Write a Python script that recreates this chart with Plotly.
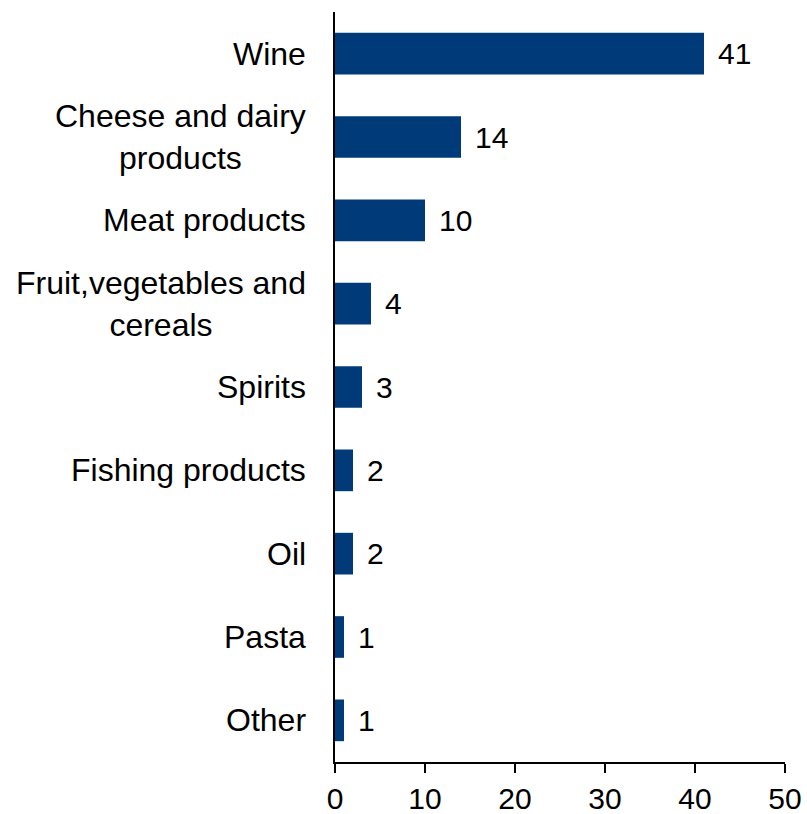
import plotly.graph_objects as go

# Product categories (top to bottom) and their counts
categories = [
    "Wine",
    "Cheese and dairy<br>products",
    "Meat products",
    "Fruit,vegetables and<br>cereals",
    "Spirits",
    "Fishing products",
    "Oil",
    "Pasta",
    "Other",
]
values = [41, 14, 10, 4, 3, 2, 2, 1, 1]
x_ticks = [0, 10, 20, 30, 40, 50]

BAR_COLOR = "#003a78"
FONT = "Liberation Sans, Arial, sans-serif"

fig = go.Figure(
    go.Bar(
        x=values,
        y=categories,
        orientation="h",
        width=0.5,
        marker=dict(color=BAR_COLOR, line=dict(width=0)),
        hoverinfo="skip",
    )
)

annotations = []
# Category labels, centred multi-line text to the left of the axis
for cat in categories:
    annotations.append(dict(
        x=0, xref="paper", y=cat, yref="y",
        text=cat, showarrow=False,
        xanchor="right", yanchor="middle", align="center",
        xshift=-27,
        font=dict(family=FONT, size=32, color="black"),
    ))
# Value labels at the end of each bar
for cat, v in zip(categories, values):
    annotations.append(dict(
        x=v, xref="x", y=cat, yref="y",
        text=str(v), showarrow=False,
        xanchor="left", yanchor="middle",
        xshift=12,
        font=dict(family=FONT, size=30, color="black"),
    ))

fig.update_layout(
    width=807, height=814,
    margin=dict(l=335, r=22, t=12, b=52),
    paper_bgcolor="white",
    plot_bgcolor="white",
    showlegend=False,
    annotations=annotations,
    font=dict(family=FONT, color="black"),
    xaxis=dict(
        range=[0, 50],
        tickvals=x_ticks,
        ticktext=[str(t) for t in x_ticks],
        showgrid=False, zeroline=False,
        showline=True, linecolor="black", linewidth=2,
        ticks="outside", ticklen=9, tickwidth=2, tickcolor="black",
        tickfont=dict(family=FONT, size=30, color="black"),
        automargin=False,
        fixedrange=True,
    ),
    yaxis=dict(
        categoryorder="array",
        categoryarray=categories,
        autorange="reversed",
        showgrid=False, zeroline=False,
        showline=True, linecolor="black", linewidth=2,
        showticklabels=False, ticks="",
        automargin=False,
        fixedrange=True,
    ),
)

fig.write_html("out.html")
